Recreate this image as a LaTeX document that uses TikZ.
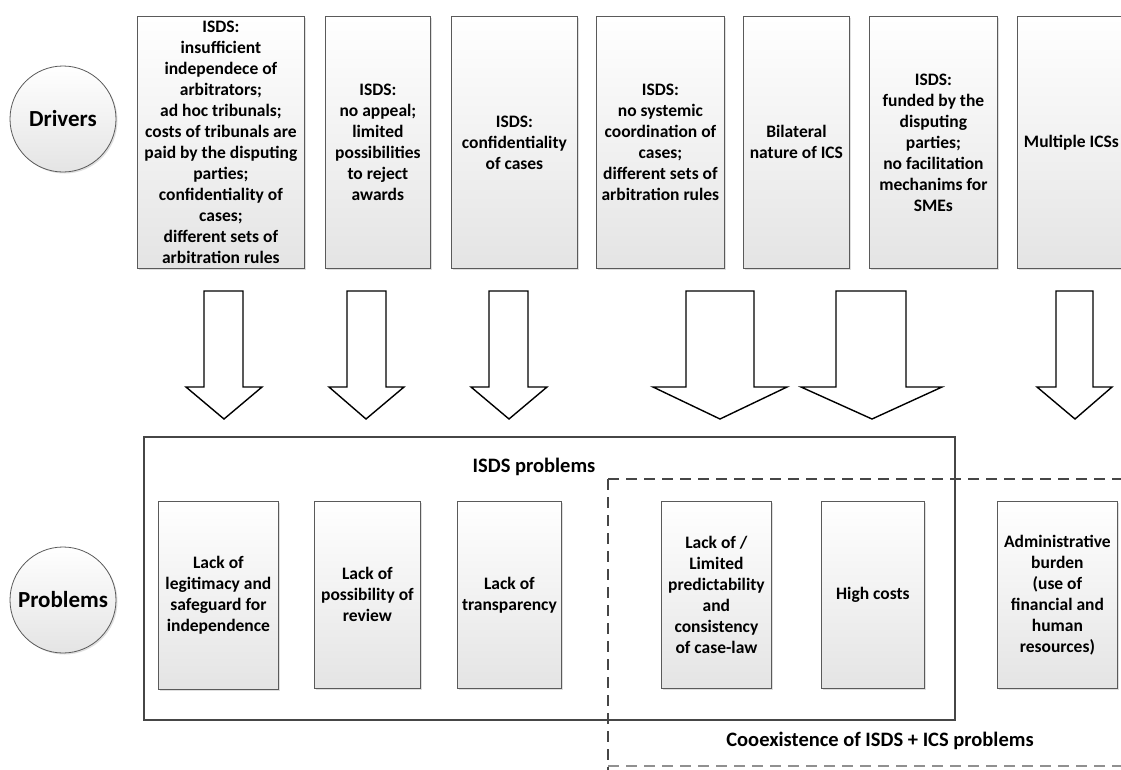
\documentclass[tikz,border=0pt]{standalone}
\usepackage{fontspec}
\setmainfont{Carlito}
\usetikzlibrary{positioning,shadows}
\definecolor{BoxLine}{RGB}{90,90,90}
\definecolor{BoxBottom}{RGB}{228,228,228}
\definecolor{FrameLine}{RGB}{70,70,70}
\newcommand{\boxfont}{\bfseries\fontsize{17.5}{21}\selectfont}
\newcommand{\headfont}{\bfseries\fontsize{23}{27}\selectfont}
\newcommand{\groupfont}{\bfseries\fontsize{20.5}{24}\selectfont}
\tikzset{
  textbox/.style={draw=BoxLine,line width=0.8pt,top color=white,bottom color=BoxBottom,
    drop shadow={opacity=0.25,shadow xshift=1.5pt,shadow yshift=-1.5pt},
    align=center,font=\boxfont,inner xsep=2pt,inner ysep=0pt,anchor=north west},
  rowhead/.style={circle,draw=BoxLine,line width=0.8pt,top color=white,bottom color=BoxBottom,
    drop shadow={opacity=0.25,shadow xshift=1.5pt,shadow yshift=-1.5pt},
    minimum size=106pt,inner sep=0pt,font=\headfont},
  blockarrow/.style={draw=black,fill=white,line width=1.4pt,line join=miter},
  groupframe/.style={draw=FrameLine,line width=2pt},
  groupdash/.style={draw=FrameLine,line width=2pt,dash pattern=on 11pt off 7pt},
}

\begin{document}
\begin{tikzpicture}[x=1pt,y=-1pt]
          \useasboundingbox (0,0) rectangle (1121,769);
          \fill[white] (0,0) rectangle (1121,769);
          \clip (0,0) rectangle (1121,769);
          % row heads
          \node[rowhead] (drivers) at (63,119) {Drivers};
          \node[rowhead] (problems) at (63,600) {Problems};
          % drivers
          \node[textbox,minimum width=167pt,minimum height=252pt] (d1) at (137,16) {ISDS:\\insufficient\\independece of\\arbitrators;\\ad hoc tribunals;\\costs of tribunals are\\paid by the disputing\\parties;\\confidentiality of\\cases;\\different sets of\\arbitration rules};
          \node[textbox,minimum width=105pt,minimum height=252pt] (d2) at (325,16) {ISDS:\\no appeal;\\limited\\possibilities\\to reject\\awards};
          \node[textbox,minimum width=126pt,minimum height=252pt] (d3) at (451,16) {ISDS:\\confidentiality\\of cases};
          \node[textbox,minimum width=128pt,minimum height=252pt] (d4) at (596,16) {ISDS:\\no systemic\\coordination of\\cases;\\different sets of\\arbitration rules};
          \node[textbox,minimum width=106pt,minimum height=252pt] (d5) at (743,16) {Bilateral\\nature of ICS};
          \node[textbox,minimum width=128pt,minimum height=252pt] (d6) at (869,16) {ISDS:\\funded by the\\disputing\\parties;\\no facilitation\\mechanims for\\SMEs};
          \node[textbox,minimum width=108pt,minimum height=252pt] (d7) at (1017,16) {Multiple ICSs};
          % arrows
          \draw[blockarrow] (204,291) -- (243,291) -- (243,387) -- (262,387) -- (224,419) -- (186,387) -- (204,387) -- cycle;
          \draw[blockarrow] (347,291) -- (386,291) -- (386,387) -- (404,387) -- (366,419) -- (329,387) -- (347,387) -- cycle;
          \draw[blockarrow] (489,291) -- (528,291) -- (528,387) -- (547,387) -- (509,419) -- (471,387) -- (489,387) -- cycle;
          \draw[blockarrow] (686,291) -- (754,291) -- (754,387) -- (787,387) -- (720,419) -- (653,387) -- (686,387) -- cycle;
          \draw[blockarrow] (836,291) -- (906,291) -- (906,387) -- (942,387) -- (872,419) -- (801,387) -- (836,387) -- cycle;
          \draw[blockarrow] (1056,291) -- (1093,291) -- (1093,387) -- (1112,387) -- (1075,419) -- (1037,387) -- (1056,387) -- cycle;
          % groups
          \draw[groupframe] (144,437) rectangle (955,720);
          \node[font=\groupfont] (isdslbl) at (534,467) {ISDS problems};
          \draw[groupdash] (608,479) -- (1130,479);
          \draw[groupdash] (608,479) -- (608,780);
          \draw[groupdash,draw=FrameLine!60] (608,766) -- (1130,766);
          \node[font=\groupfont] (bothlbl) at (880,741) {Cooexistence of ISDS + ICS problems};
          % problems
          \node[textbox,minimum width=120pt,minimum height=188pt] (p1) at (158,501) {Lack of\\legitimacy and\\safeguard for\\independence};
          \node[textbox,minimum width=106pt,minimum height=187pt] (p2) at (314,501) {Lack of\\possibility of\\review};
          \node[textbox,minimum width=104pt,minimum height=187pt] (p3) at (457,501) {Lack of\\transparency};
          \node[textbox,minimum width=110pt,minimum height=187pt] (p4) at (661,501) {Lack of /\\Limited\\predictability\\and\\consistency\\of case-law};
          \node[textbox,minimum width=103pt,minimum height=187pt] (p5) at (821,501) {High costs};
          \node[textbox,minimum width=120pt,minimum height=187pt] (p6) at (997,501) {Administrative\\burden\\(use of\\financial and\\human\\resources)};
        \end{tikzpicture}
\end{document}
